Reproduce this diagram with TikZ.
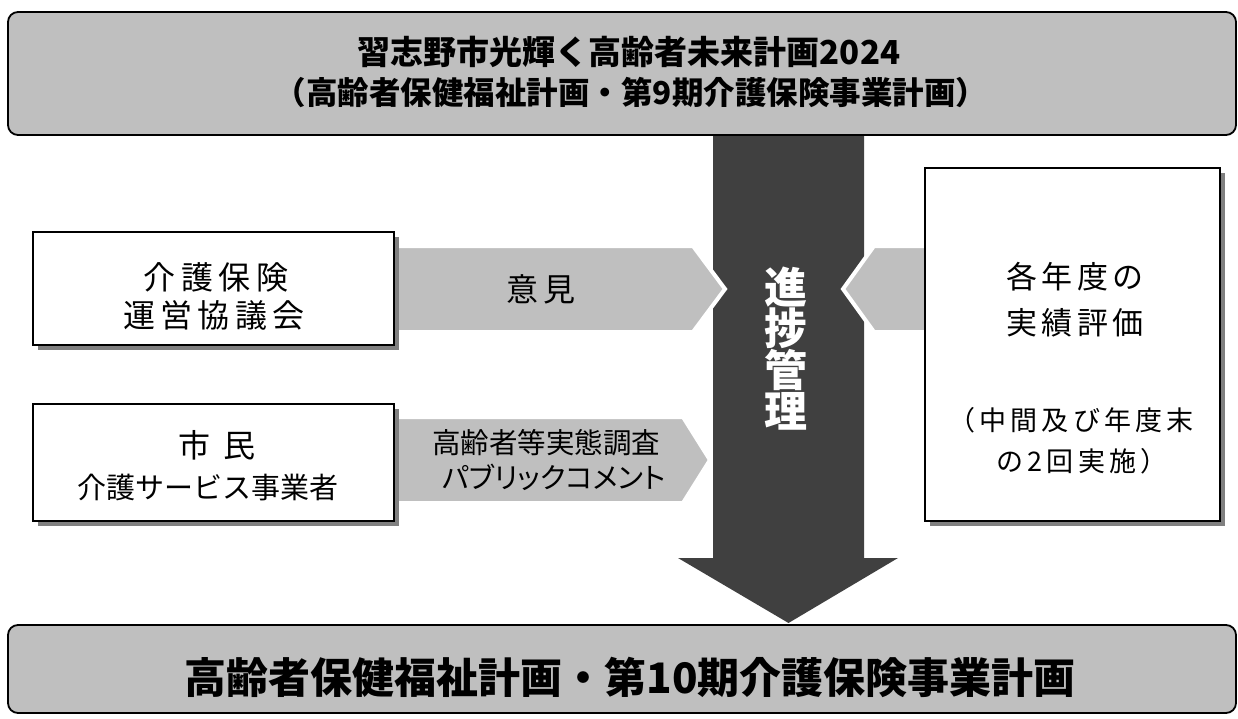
\documentclass[tikz,border=0pt]{standalone}
\usepackage{fontspec}
\setmainfont{Noto Sans CJK JP}
\newfontfamily\spA{Noto Sans CJK JP}[LetterSpace=17]
\newfontfamily\spB{Noto Sans CJK JP}[LetterSpace=13]
\newfontfamily\spC{Noto Sans CJK JP}[LetterSpace=15]
\newfontfamily\paltf{Noto Sans CJK JP}[RawFeature=+palt]
\usetikzlibrary{shadows}
\definecolor{lightgr}{HTML}{BFBFBF}
\definecolor{darkgr}{HTML}{404040}
\definecolor{shadowgr}{HTML}{808080}
\tikzset{
  planbox/.style={draw=black, line width=1.8pt, fill=lightgr, rounded corners=10pt, inner sep=0pt},
  whitebox/.style={draw=black, line width=2pt, fill=white, inner sep=0pt,
    drop shadow={shadow xshift=5pt, shadow yshift=-5pt, fill=shadowgr, opacity=1}},
  chev/.style={fill=lightgr, draw=white, line width=4pt, line join=miter},
  flow/.style={fill=darkgr},
  lbl/.style={inner sep=0pt, text=black},
}
\begin{document}
\begin{tikzpicture}[x=1pt,y=-1pt]
\useasboundingbox (0,0) rectangle (1238,719);
% central progress arrow
\path[flow] (713,130) -- (864,130) -- (864,558) -- (898,558) -- (788.5,623) -- (678,558) -- (713,558) -- cycle;
% plan boxes
\node[planbox, minimum width=1228pt, minimum height=123pt] (top) at (622,73.5) {};
\node[planbox, minimum width=1228pt, minimum height=88pt] (bottom) at (622,669) {};
% chevrons
\path[chev] (380,246) -- (693,246) -- (725,289) -- (693,332) -- (380,332) -- cycle;
\path[chev] (380,417) -- (683,417) -- (710,460) -- (683,503) -- (380,503) -- cycle;
\path[chev] (940,246) -- (874,246) -- (843,289) -- (874,332) -- (940,332) -- cycle;
% white boxes
\node[whitebox, minimum width=361pt, minimum height=113pt] (council) at (213.5,288.5) {};
\node[whitebox, minimum width=361pt, minimum height=117pt] (citizens) at (213.5,462.5) {};
\node[whitebox, minimum width=295pt, minimum height=353pt] (eval) at (1072.5,344.5) {};
% texts
\node[lbl, font=\bfseries\fontsize{33}{41}\selectfont] (top1) at (629,52) {習志野市光輝く高齢者未来計画2024};
\node[lbl, font=\bfseries\fontsize{31.5}{41}\selectfont] (top2) at (631,93) {（高齢者保健福祉計画・第9期介護保険事業計画）};
\node[lbl, font=\bfseries\fontsize{42}{50}\selectfont] (bot1) at (630,677) {高齢者保健福祉計画・第10期介護保険事業計画};
\node[lbl, font=\spA\fontsize{32}{38}\selectfont] (c1) at (216,277) {介護保険};
\node[lbl, font=\spA\fontsize{32}{38}\selectfont] (c2) at (214,315) {運営協議会};
\node[lbl, font=\spA\fontsize{32}{38}\selectfont] (s1) at (217,445) {市\hspace{14pt}民};
\node[lbl, font=\fontsize{29}{36}\selectfont] (s2) at (208,488) {介護サービス事業者};
\node[lbl, font=\spA\fontsize{32}{38}\selectfont] (op) at (541,289) {意見};
\node[lbl, font=\fontsize{28.5}{34}\selectfont] (sv1) at (546,443) {高齢者等実態調査};
\node[lbl, font=\paltf\fontsize{28.5}{34}\selectfont] (sv2) at (554,477) {パブリックコメント};
\node[lbl, font=\spB\fontsize{31}{40}\selectfont] (e1) at (1075,277) {各年度の};
\node[lbl, font=\spB\fontsize{31}{40}\selectfont] (e2) at (1075,323) {実績評価};
\node[lbl, font=\spC\fontsize{27}{34}\selectfont] (e3) at (1071,420) {（中間及び年度末};
\node[lbl, font=\spC\fontsize{27}{34}\selectfont] (e4) at (1082,461) {の2回実施）};
\node[lbl, text=white, align=center, font=\bfseries\fontsize{43}{41}\selectfont] (pm) at (786,348.5) {進\\捗\\管\\理};
\end{tikzpicture}
\end{document}
